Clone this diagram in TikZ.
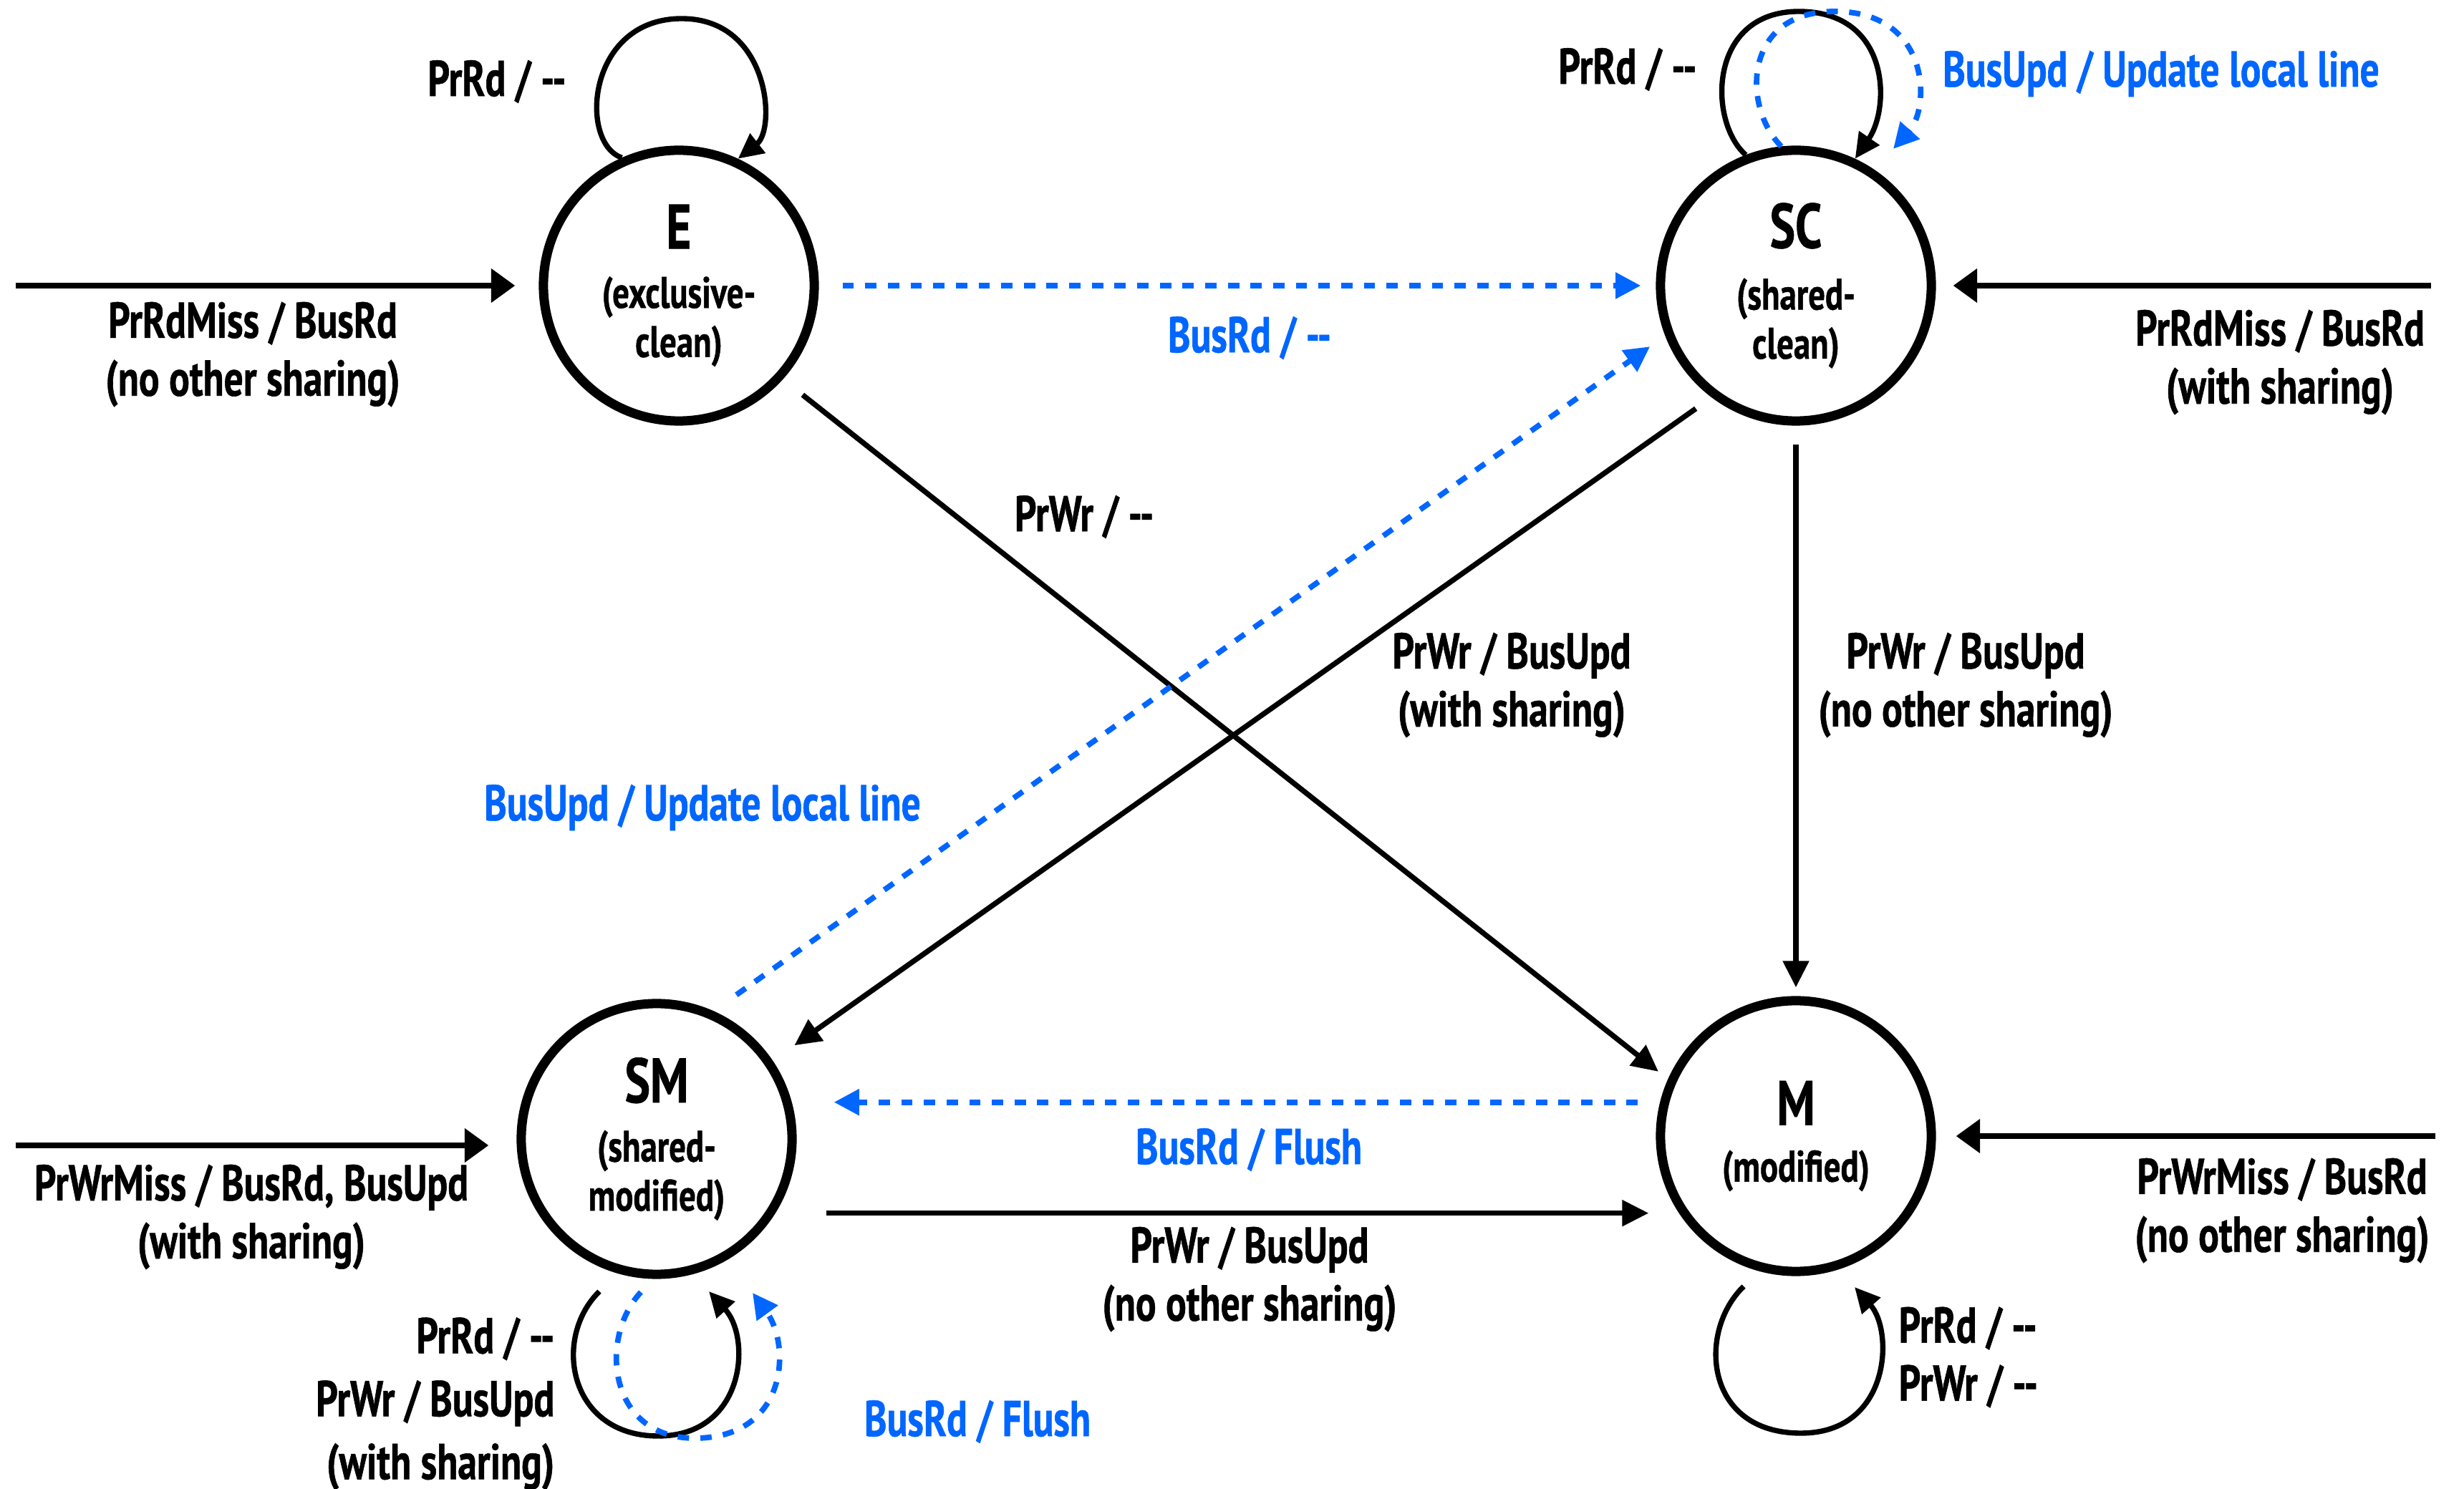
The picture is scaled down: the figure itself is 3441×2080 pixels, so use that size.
\documentclass[tikz,border=0pt]{standalone}
\usepackage{fontspec}
\setmainfont{PT Sans}[FakeStretch=0.76, BoldFeatures={FakeBold=0.8}]
\usetikzlibrary{arrows.meta}
\definecolor{bblue}{RGB}{0,102,255}
\newcommand\lblfont{\fontsize{20}{23}\selectfont\bfseries}
\newcommand\subfont{\fontsize{17.5}{19.5}\selectfont\bfseries}
\newcommand\namefont{\fontsize{25}{25}\selectfont\bfseries}
\newcommand\dd{-{}-}
\begin{document}
\begin{tikzpicture}[x=0.01cm,y=-0.01cm,
  st/.style={circle, draw, line width=3.7pt, minimum size=3.78cm, inner sep=0pt, align=center, font=\subfont},
  lab/.style={font=\lblfont, align=center, inner sep=0pt},
  blab/.style={lab, text=bblue},
  ent/.style={line width=2.5pt, -{Triangle[length=9.5pt,width=13pt]}},
  tr/.style={line width=2.1pt, -{Triangle[length=10.5pt,width=10pt]}},
  lp/.style={line width=2.1pt, -{Triangle[length=10pt,width=9.5pt]}},
  bl/.style={line width=2.2pt, draw=bblue, dash pattern=on 4.5pt off 4.5pt, -{Triangle[length=10pt,width=10pt]}}
]
\useasboundingbox (0,0) rectangle (3441,2080);

% states
\node[st] (E)  at (948,399)  {{\namefont E}\\[4pt](exclusive-\\clean)};
\node[st] (SC) at (2508,399) {{\namefont SC}\\[5pt](shared-\\clean)};
\node[st] (SM) at (917,1591) {{\namefont SM}\\[4pt](shared-\\modified)};
\node[st] (M)  at (2508,1587) {{\namefont M}\\[3pt](modified)};

% entry points
\coordinate (inE) at (22,399);
\coordinate (inSC) at (3395,399);
\coordinate (inSM) at (22,1600);
\coordinate (inM) at (3401,1587);

\draw[ent, shorten >=0.33cm] (inE) -- (E.west);
\draw[ent, shorten >=0.24cm] (inSC) -- (SC.east);
\draw[ent, shorten >=0.39cm] (inSM) -- (inSM -| SM.west);
\draw[ent, shorten >=0.28cm] (inM) -- (M.east);

% transitions
\draw[bl, shorten <=0.33cm, shorten >=0.21cm] (E.east) -- (SC.west);
\draw[tr, shorten <=0.35cm, shorten >=0.17cm] (E.-42) -- (M.156);
\draw[tr, shorten <=0.26cm, shorten >=0.12cm] (SC.south) -- (M.north);
\draw[tr, shorten <=0.27cm, shorten >=0.37cm] (SC.-127.6) -- (SM.34.3);
\draw[bl, shorten <=0.39cm, shorten >=0.26cm] (SM.66.1) -- (SC.201.6);
\draw[bl, shorten <=0.31cm, shorten >=0.52cm] (M.166.5) -- (M.166.5 -| SM.east);
\draw[tr, shorten <=0.71cm, shorten >=0.10cm] (SM.-32.3) -- (SM.-32.3 -| M.west);

% self loops
\draw[lp] (E.114) .. controls (808,200) and (819,26) .. (952,26) .. controls (1075,26) and (1084,180) .. (E.65);
\draw[lp] (SC.111) .. controls (2385,170) and (2385,16) .. (2512,16) .. controls (2640,16) and (2640,150) .. (SC.65);
\coordinate (scb) at (2644,208);
\draw[bl] (SC.96) .. controls (2433,150) and (2433,16) .. (2562,16) .. controls (2696,16) and (2696,150) .. (scb);
\coordinate (sml1) at (837,1804);
\coordinate (sml2) at (990,1804);
\coordinate (smb1) at (895,1805);
\coordinate (smb2) at (1051,1806);
\draw[lp] (sml1) .. controls (770,1870) and (795,2006) .. (919,2006) .. controls (1040,2006) and (1050,1870) .. (sml2);
\draw[bl] (smb1) .. controls (835,1870) and (850,2009) .. (970,2009) .. controls (1100,2009) and (1105,1880) .. (smb2);
\coordinate (ml1) at (2435,1797);
\coordinate (ml2) at (2590,1798);
\draw[lp] (ml1) .. controls (2370,1860) and (2380,2002) .. (2515,2002) .. controls (2640,2002) and (2645,1860) .. (ml2);

% labels
\node[lab] (lE1) at (694,114) {PrRd / \dd};
\node[lab] (lEin) at (353,495) {PrRdMiss / BusRd\\(no other sharing)};
\node[blab] (lESC) at (1745,472) {BusRd / \dd};
\node[lab] (lEM) at (1514,722) {PrWr / \dd};
\node[lab] (lSC1) at (2273,97) {PrRd / \dd};
\node[blab] (lSC2) at (3018,103) {BusUpd / Update local line};
\node[lab] (lSCin) at (3184,506) {PrRdMiss / BusRd\\(with sharing)};
\node[lab] (lSCSM) at (2111,957) {PrWr / BusUpd\\(with sharing)};
\node[lab] (lSCM) at (2745,957) {PrWr / BusUpd\\(no other sharing)};
\node[blab] (lSMSC) at (981,1128) {BusUpd / Update local line};
\node[lab] (lSMin) at (351,1700) {PrWrMiss / BusRd, BusUpd\\(with sharing)};
\node[blab] (lMSM) at (1744,1606) {BusRd / Flush};
\node[lab] (lSMM) at (1745,1787) {PrWr / BusUpd\\(no other sharing)};
\node[lab] (lMin) at (3187,1691) {PrWrMiss / BusRd\\(no other sharing)};
\node[lab, align=right, anchor=east] (lSM1) at (775,1961) {PrRd / \dd\\[2pt]PrWr / BusUpd\\[2pt](with sharing)};
\node[blab] (lSM2) at (1365,1986) {BusRd / Flush};
\node[lab, align=left, anchor=west] (lM1) at (2651,1896) {PrRd / \dd\\PrWr / \dd};
\end{tikzpicture}
\end{document}
